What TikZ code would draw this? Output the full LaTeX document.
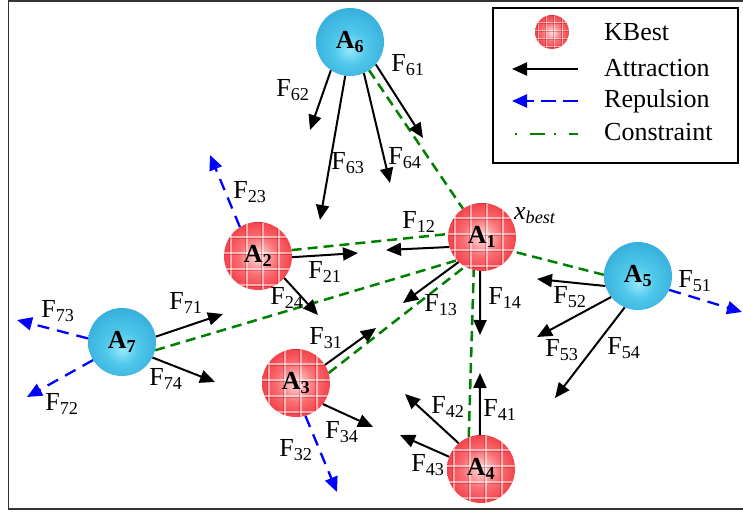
\documentclass[tikz,border=0pt]{standalone}
\usepackage{fontspec}
\setmainfont{Liberation Serif}
\usetikzlibrary{arrows.meta}
\definecolor{bcA}{RGB}{150,232,250}
\definecolor{bcB}{RGB}{80,200,235}
\definecolor{bcC}{RGB}{45,165,215}
\definecolor{bcD}{RGB}{25,120,170}
\definecolor{rcA}{RGB}{255,225,225}
\definecolor{rcB}{RGB}{250,110,115}
\definecolor{rcC}{RGB}{240,40,50}
\definecolor{rcD}{RGB}{225,20,30}
\definecolor{cgreen}{RGB}{0,128,0}
\pgfdeclareradialshading{bluesh}{\pgfpoint{0bp}{-6bp}}{color(0bp)=(bcA); color(12bp)=(bcB); color(34bp)=(bcC); color(50bp)=(bcD)}
\pgfdeclareradialshading{redsh}{\pgfpoint{0bp}{0bp}}{color(0bp)=(rcA); color(14bp)=(rcB); color(32bp)=(rcC); color(50bp)=(rcD)}
\newcommand\tilegrid[1]{%
  \foreach \k in {-3,...,3}{%
    \draw[white,opacity=.5,line width=1.4pt] ([xshift=\k*#1+0.3*#1]path picture bounding box.center) ++(0,-60) -- ++(0,120);
    \draw[white,opacity=.5,line width=1.4pt] ([yshift=\k*#1+0.2*#1]path picture bounding box.center) ++(-60,0) -- ++(120,0);
    \draw[rcD!70!black,opacity=.3,line width=1pt] ([xshift=\k*#1+0.3*#1-1.3pt]path picture bounding box.center) ++(0,-60) -- ++(0,120);
    \draw[rcD!70!black,opacity=.3,line width=1pt] ([yshift=\k*#1+0.2*#1-1.3pt]path picture bounding box.center) ++(-60,0) -- ++(120,0);
  }}
\tikzset{
  bluesph/.style={circle, minimum size=68pt, inner sep=0pt, shading=bluesh, font=\fontsize{26}{30}\selectfont\bfseries},
  redsph/.style={circle, minimum size=#1, inner sep=0pt, shading=redsh, path picture={\tilegrid{#1/4.25}}, font=\fontsize{26}{30}\selectfont\bfseries},
  redsph/.default=68pt,
  attr/.style={line width=2pt, -{Triangle[length=15pt,width=13pt]}},
  repul/.style={blue, line width=2.3pt, dash pattern=on 12pt off 8pt, -{Triangle[length=15pt,width=13pt]}},
  constr/.style={cgreen, line width=2.5pt, dash pattern=on 10pt off 6pt},
  lbl/.style={inner sep=0pt},
}
\begin{document}
\begin{tikzpicture}[x=1pt,y=-1pt, every node/.append style={font=\fontsize{26}{30}\selectfont}]
\useasboundingbox (0,0) rectangle (743,514);
% frame
\draw[line width=1.5pt, black!80] (750,1) -- (8.5,1) -- (8.5,509) -- (750,509);

% agents
\node[bluesph] (A6) at (350,42) {A\textsubscript{6}};
\node[redsph] (A1) at (482,237) {A\textsubscript{1}};
\node[redsph] (A2) at (258,256) {A\textsubscript{2}};
\node[bluesph] (A5) at (638,276) {A\textsubscript{5}};
\node[bluesph] (A7) at (122,342) {A\textsubscript{7}};
\node[redsph] (A3) at (296,383) {A\textsubscript{3}};
\node[redsph] (A4) at (481,469) {A\textsubscript{4}};

% constraints
\draw[constr] (A6.-56) -- (A1.124);
\draw[constr] (A2.10) -- (A1.175);
\draw[constr] (A7.-14) -- (A1.-137);
\draw[constr] (A3.17) -- (A1.-120);
\draw[constr] (A4.111) -- (A1.-104);
\draw[constr] (A5.178) -- (A1.-25);

% tips
\coordinate (t61) at (423,138);
\coordinate (t62) at (310,130);
\coordinate (t63) at (320,220);
\coordinate (t64) at (390,183);
\coordinate (t12) at (386,250);
\coordinate (t13) at (403,303);
\coordinate (t14) at (480,335);
\coordinate (t21) at (358,253);
\coordinate (t24) at (318,315);
\coordinate (t23) at (210,155);
\coordinate (t31) at (376,328);
\coordinate (t34) at (373,427);
\coordinate (t32) at (337,492);
\coordinate (t41) at (480,373);
\coordinate (t42) at (405,394);
\coordinate (t43) at (400,435);
\coordinate (t52) at (537,279);
\coordinate (t53) at (537,337);
\coordinate (t54) at (555,398);
\coordinate (t51) at (742,312);
\coordinate (t71) at (223,314);
\coordinate (t74) at (215,382);
\coordinate (t73) at (17,320);
\coordinate (t72) at (27,397);

% attraction
\draw[attr] (A6.-41) -- (t61);
\draw[attr] (A6.-124) -- (t62);
\draw[attr] (A6.-98) -- (t63);
\draw[attr] (A6.-66) -- (t64);
\draw[attr] (A1.-163) -- (t12);
\draw[attr] (A1.-133) -- (t13);
\draw[attr] (A1.-93) -- (t14);
\draw[attr] (A2.-2) -- (t21);
\draw[attr] (A2.-40) -- (t24);
\draw[attr] (A3.32) -- (t31);
\draw[attr] (A3.-38) -- (t34);
\draw[attr] (A4.92) -- (t41);
\draw[attr] (A4.131) -- (t42);
\draw[attr] (A4.159) -- (t43);
\draw[attr] (A5.-163) -- (t52);
\draw[attr] (A5.-142) -- (t53);
\draw[attr] (A5.-113) -- (t54);
\draw[attr] (A7.9) -- (t71);
\draw[attr] (A7.-27) -- (t74);
% repulsion
\draw[repul] (A2.122) -- (t23);
\draw[repul] (A3.-74) -- (t32);
\draw[repul] (A5.-24) -- (t51);
\draw[repul] (A7.174) -- (t73);
\draw[repul] (A7.-148) -- (t72);

% labels
\node[lbl] (l61) at (408,65) {F\textsubscript{61}};
\node[lbl] (l62) at (293,90) {F\textsubscript{62}};
\node[lbl] (l63) at (348,163) {F\textsubscript{63}};
\node[lbl] (l64) at (405,158) {F\textsubscript{64}};
\node[lbl] (l12) at (419,222) {F\textsubscript{12}};
\node[lbl] (l13) at (441,305) {F\textsubscript{13}};
\node[lbl] (l14) at (505,298) {F\textsubscript{14}};
\node[lbl] (l21) at (325,272) {F\textsubscript{21}};
\node[lbl] (l24) at (287,298) {F\textsubscript{24}};
\node[lbl] (l23) at (250,192) {F\textsubscript{23}};
\node[lbl] (l31) at (326,338) {F\textsubscript{31}};
\node[lbl] (l34) at (342,432) {F\textsubscript{34}};
\node[lbl] (l32) at (296,450) {F\textsubscript{32}};
\node[lbl] (l41) at (500,410) {F\textsubscript{41}};
\node[lbl] (l42) at (448,407) {F\textsubscript{42}};
\node[lbl] (l43) at (428,465) {F\textsubscript{43}};
\node[lbl] (l52) at (570,297) {F\textsubscript{52}};
\node[lbl] (l53) at (562,350) {F\textsubscript{53}};
\node[lbl] (l54) at (624,348) {F\textsubscript{54}};
\node[lbl] (l51) at (695,281) {F\textsubscript{51}};
\node[lbl] (l71) at (186,303) {F\textsubscript{71}};
\node[lbl] (l74) at (166,379) {F\textsubscript{74}};
\node[lbl] (l73) at (58,311) {F\textsubscript{73}};
\node[lbl] (l72) at (62,404) {F\textsubscript{72}};
\node[lbl] (xb) at (535,216) {\textit{x}\textsubscript{\textit{best}}};

% legend
\draw[line width=1.5pt] (493,8) rectangle (738,163);
\node[redsph=34pt] (kb) at (552,32) {};
\node[lbl, anchor=west] (tkb) at (604,32) {KBest};
\coordinate (la1) at (578,69);
\coordinate (la2) at (512,69);
\draw[attr] (la1) -- (la2);
\node[lbl, anchor=west] (tat) at (604,68) {Attraction};
\coordinate (lr1) at (578,101);
\coordinate (lr2) at (512,101);
\draw[repul, dash pattern=on 15pt off 7pt] (lr1) -- (lr2);
\node[lbl, anchor=west] (tre) at (604,101) {Repulsion};
\coordinate (lc1) at (515,134);
\coordinate (lc2) at (578,134);
\draw[constr, dash pattern=on 2pt off 13pt on 15pt off 9pt] (lc1) -- (lc2);
\node[lbl, anchor=west] (tco) at (604,132) {Constraint};
\end{tikzpicture}
\end{document}
